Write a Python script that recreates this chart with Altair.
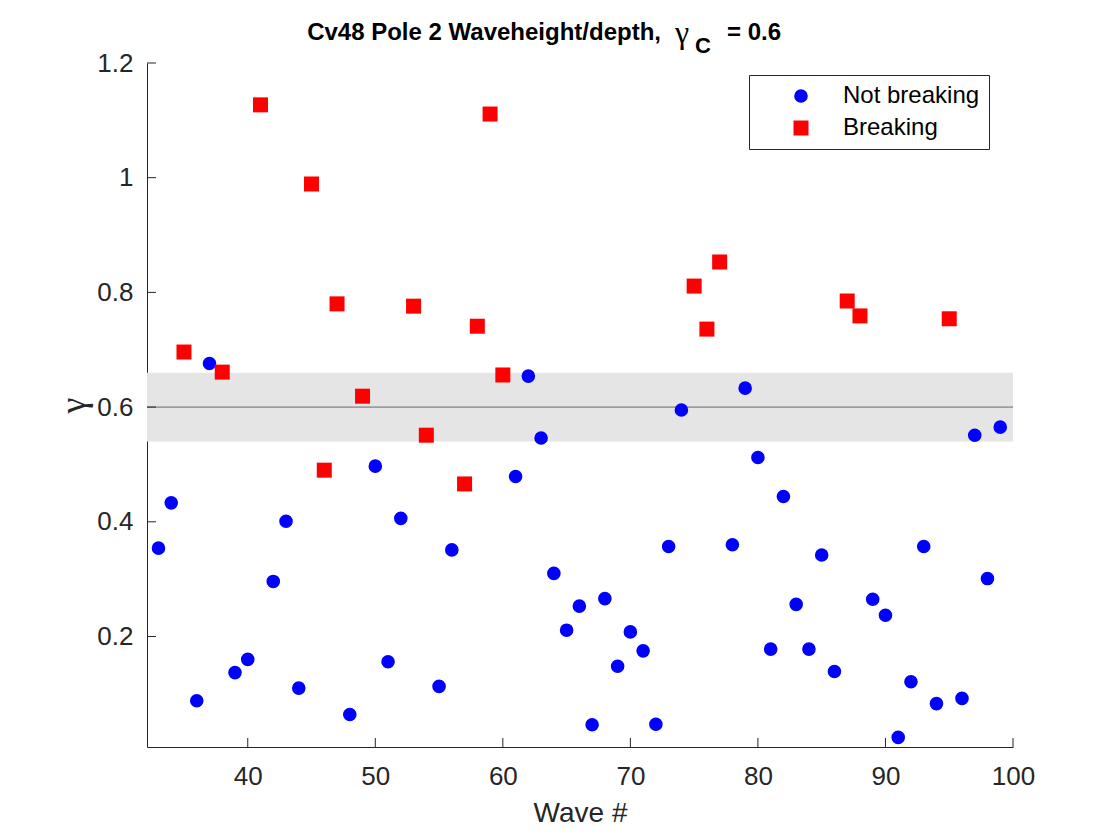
import altair as alt
import pandas as pd

# ---------------- data ----------------
blue_x = [33, 34, 36, 37, 39, 40, 42, 43, 44, 48, 50, 51, 52, 55, 56, 61, 62, 63,
          64, 65, 66, 67, 68, 69, 70, 71, 72, 73, 74, 78, 79, 80, 81, 82, 83, 84,
          85, 86, 89, 90, 91, 92, 93, 94, 96, 97, 98, 99]
blue_y = [0.354, 0.433, 0.088, 0.676, 0.137, 0.160, 0.296, 0.401, 0.110, 0.064,
          0.497, 0.156, 0.406, 0.113, 0.351, 0.479, 0.654, 0.546, 0.310, 0.211,
          0.253, 0.046, 0.266, 0.148, 0.208, 0.175, 0.047, 0.357, 0.595, 0.360,
          0.633, 0.512, 0.178, 0.444, 0.256, 0.178, 0.342, 0.139, 0.265, 0.237,
          0.024, 0.121, 0.357, 0.083, 0.092, 0.551, 0.301, 0.565]
red_x = [35, 38, 41, 45, 46, 47, 49, 53, 54, 57, 58, 59, 60, 75, 76, 77, 87, 88, 95]
red_y = [0.696, 0.661, 1.127, 0.989, 0.490, 0.780, 0.619, 0.776, 0.551, 0.466,
         0.741, 1.111, 0.656, 0.811, 0.736, 0.853, 0.785, 0.759, 0.754]

series_names = ["Not breaking", "Breaking"]
band_center = [0.6]
band_low = [0.54]
band_high = [0.66]
x_ticks = [40, 50, 60, 70, 80, 90, 100]
y_ticks = [0.2, 0.4, 0.6, 0.8, 1.0, 1.2]
x_domain = [32.1, 100]
y_domain = [0.0073, 1.2]

title_main = ["Cv48 Pole 2 Waveheight/depth,"]
title_sym = ["\u03b3"]
title_sub = ["C"]
title_tail = ["= 0.6"]

# ---------------- styling ----------------
W, H = 866, 684
FONT = "Liberation Sans"
AX = "#262626"

pts = pd.DataFrame({
    "wave": blue_x + red_x,
    "gamma": blue_y + red_y,
    "type": [series_names[0]] * len(blue_x) + [series_names[1]] * len(red_x),
})
band = pd.DataFrame({"lo": band_low, "hi": band_high, "c": band_center})
xt = pd.DataFrame({"t": x_ticks})
yt = pd.DataFrame({"t": y_ticks})

xscale = alt.Scale(domain=x_domain, nice=False, zero=False)
yscale = alt.Scale(domain=y_domain, nice=False, zero=False)

xaxis = alt.Axis(values=x_ticks, format="d", ticks=False, grid=False,
                 domainColor=AX, domainWidth=1, labelFont=FONT, labelFontSize=26,
                 labelColor=AX, labelPadding=16, labelFlush=False,
                 title="Wave #", titleFont=FONT, titleFontSize=28,
                 titleFontWeight="normal", titleColor=AX, titlePadding=10)
yaxis = alt.Axis(values=y_ticks, format="~g", ticks=False, grid=False,
                 domainColor=AX, domainWidth=1, labelFont=FONT, labelFontSize=26,
                 labelColor=AX, labelPadding=14, labelFlush=False,
                 title="\u03b3", titleFont="Liberation Serif", titleFontSize=36,
                 titleFontWeight="normal", titleColor=AX, titleX=-74, titleY=H / 2,
                 titleAlign="center", titleBaseline="middle", titleAngle=270)

legend = alt.Legend(title=None, orient="none", legendX=602, legendY=12,
                    direction="vertical", strokeColor=AX, fillColor="white",
                    padding=9, symbolOffset=31, labelOffset=30, rowPadding=8,
                    labelFont=FONT, labelFontSize=24, labelColor="black",
                    symbolSize=200, symbolStrokeWidth=0)

band_rect = alt.Chart(band).mark_rect(color="#e5e5e5").encode(
    y=alt.Y("lo:Q", scale=yscale, axis=yaxis), y2="hi:Q",
    x=alt.value(0), x2=alt.value(W))

center_line = alt.Chart(band).mark_rule(color="#333333", strokeWidth=0.7).encode(
    y=alt.Y("c:Q", scale=yscale, axis=yaxis), x=alt.value(0), x2=alt.value(W))

points = alt.Chart(pts).mark_point(filled=True, opacity=1, strokeWidth=0).encode(
    x=alt.X("wave:Q", scale=xscale, axis=xaxis),
    y=alt.Y("gamma:Q", scale=yscale, axis=yaxis),
    color=alt.Color("type:N", scale=alt.Scale(domain=series_names, range=["#0000ff", "#ff0000"]), legend=legend),
    shape=alt.Shape("type:N", scale=alt.Scale(domain=series_names, range=["circle", "square"]), legend=legend),
    size=alt.Size("type:N", scale=alt.Scale(domain=series_names, range=[185, 225]), legend=None),
)

xtick_rules = alt.Chart(xt).mark_rule(color=AX, strokeWidth=1).encode(
    x=alt.X("t:Q", scale=xscale, axis=xaxis), y=alt.value(H), y2=alt.value(H - 9))
ytick_rules = alt.Chart(yt).mark_rule(color=AX, strokeWidth=1).encode(
    y=alt.Y("t:Q", scale=yscale, axis=yaxis), x=alt.value(0), x2=alt.value(9))

t1 = alt.Chart(pd.DataFrame({"s": title_main})).mark_text(
    font=FONT, fontSize=24, fontWeight="bold", align="right", baseline="alphabetic",
    color="black").encode(x=alt.value(514), y=alt.value(-23), text="s:N")
t2 = alt.Chart(pd.DataFrame({"s": title_sym})).mark_text(
    font="Liberation Serif", fontSize=32, align="left", baseline="alphabetic",
    color="black").encode(x=alt.value(528), y=alt.value(-20), text="s:N")
t3 = alt.Chart(pd.DataFrame({"s": title_sub})).mark_text(
    font=FONT, fontSize=22, fontWeight="bold", align="left", baseline="alphabetic",
    color="black").encode(x=alt.value(548), y=alt.value(-10), text="s:N")
t4 = alt.Chart(pd.DataFrame({"s": title_tail})).mark_text(
    font=FONT, fontSize=24, fontWeight="bold", align="left", baseline="alphabetic",
    color="black").encode(x=alt.value(580), y=alt.value(-23), text="s:N")

chart = alt.layer(band_rect, center_line, xtick_rules, ytick_rules, points,
                  t1, t2, t3, t4).properties(
    width=W, height=H,
    autosize=alt.AutoSizeParams(type="none"),
    padding={"left": 139, "top": 55, "right": 90, "bottom": 90},
    background="white",
).configure_view(stroke=None)

chart.save("out.html", embed_options={"renderer": "svg", "actions": False})
